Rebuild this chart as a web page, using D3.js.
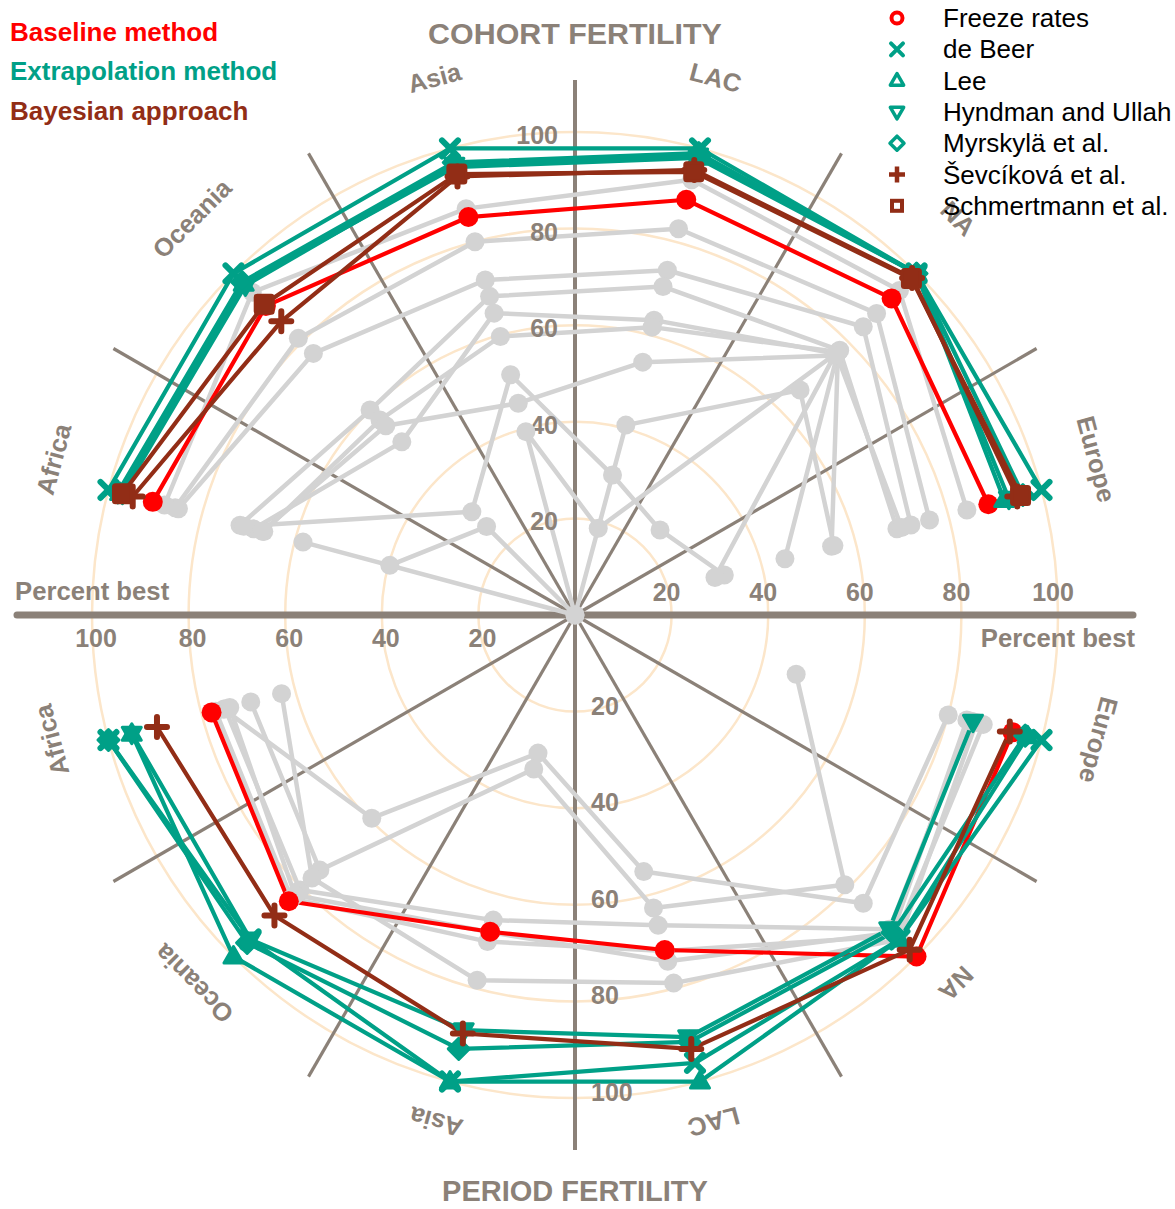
<!DOCTYPE html>
<html><head><meta charset="utf-8">
<script src="https://cdn.jsdelivr.net/npm/d3@7"></script>
<style>
body{margin:0;background:#fff}
svg{display:block}
text{font-family:"Liberation Sans",Arial,Helvetica,sans-serif}
</style>
</head><body>
<svg id="c" width="1175" height="1209"></svg>
<script>
// ---------- DATA ----------
const regions = ["Africa", "Oceania", "Asia", "LAC", "NA", "Europe"];
const radialTicks = [20, 40, 60, 80, 100];
const groupLabels = ["Baseline method", "Extrapolation method", "Bayesian approach"];
const methodNames = ["Freeze rates", "de Beer", "Lee", "Hyndman and Ullah", "Myrskylä et al.", "Ševcíková et al.", "Schmertmann et al."];

// percent best, order of regions above
const freezeCohort      = [90.5, 90.5, 85.3, 89.0, 92.7, 88.6];
const freezePeriod      = [77.9, 83.8, 67.9, 71.8, 100, 93.8];
const deBeerCohort      = [100, 100, 100, 100, 100, 100];
const deBeerPeriod      = [100, 95, 100, 96, 95, 100];
const leeCohort         = [97.5, 97, 96, 98, 100, 92];
const leePeriod         = [95, 100, 100, 100, 95, 97];
const hyndmanCohort     = [97, 96.5, 96.5, 98.5, 100, 93];
const hyndmanPeriod     = [95, 95, 89, 90.5, 92, 85.3];
const myrskylaCohort    = [98, 97.5, 97, 99, 100, 96];
const myrskylaPeriod    = [100, 96, 93, 91.5, 93, 96.5];
const sevcikovaCohort   = [94.8, 86, 94, 95.4, 98.7, 94.8];
const sevcikovaPeriod   = [89.6, 88, 89.7, 93, 98, 93.2];
const schmertmannCohort = [97, 91, 94.5, 95, 98.5, 95.5];
const schmertmannPeriod = [null, null, null, null, null, null];

// other methods (grey)
const otherCohort = [
  [88, 94.5, 87.1, 93.3, 95, 84],
  [85.7, 81, 80, 82.8, 88.3, 76],
  [85, 76.6, 71.8, 73.9, 84.4, 72],
  [71.8, 60, 68.3, 70.4, 77.5, 69],
  [68.9, 50.7, 64.7, 63.2, 76.5, 70],
  [66.7, 57.1, 59.7, 61.7, 77, 55],
  [71, 30.2, 51.5, 30, 24.9, 32],
  [58.3, 0, 39.3, 18.6, 77, 45],
  [39.7, 25.9, 0, 40.7, 65.9, 55.5],
  [67, 55.4, 45.4, 54.2, 76, 30]
];
const otherPeriod = [
  [75.3, 59.5, 29.6, 55, 84.4, 80],
  [69.5, 74.7, 33, 62.8, 79, 47.4],
  [77, 83, 70, 72, 94, 87.5],
  [75, 80.5, 65.4, 66.5, 92, 85],
  [62.9, 77, 78.3, 78.9, 95, 86],
  [74, 82, 68, 74.2, 93, 84]
];

// ---------- STYLE ----------
const RED = "#ff0000", TEAL = "#00a087", BROWN = "#922d16", GREY = "#d3d3d3";
const AXIS = "#8b8178", GRID = "#fce6ca";
const cx = 575, cy = 615;

const svg = d3.select("#c");
const r = d3.scaleLinear().domain([0, 100]).range([0, 483]);
const angCohort = d3.scalePoint().domain(regions).range([165, 15]);
const angPeriod = d3.scalePoint().domain(regions).range([195, 345]);
const rad = a => a * Math.PI / 180;
const pos = (a, v) => [cx + r(v) * Math.cos(rad(a)), cy - r(v) * Math.sin(rad(a))];

// grid circles
svg.append("g").selectAll("circle").data(radialTicks).join("circle")
  .attr("cx", cx).attr("cy", cy).attr("r", d => r(d))
  .attr("fill", "none").attr("stroke", GRID).attr("stroke-width", 2.5);

// radial axis lines
const rayAngles = [30, 60, 120, 150, 210, 240, 300, 330];
svg.append("g").selectAll("line").data(rayAngles).join("line")
  .attr("x1", cx).attr("y1", cy)
  .attr("x2", a => cx + 533 * Math.cos(rad(a)))
  .attr("y2", a => cy - 533 * Math.sin(rad(a)))
  .attr("stroke", AXIS).attr("stroke-width", 3.2);
svg.append("line").attr("x1", cx).attr("x2", cx).attr("y1", cy - 535).attr("y2", cy + 535)
  .attr("stroke", AXIS).attr("stroke-width", 4);
svg.append("line").attr("x1", 17).attr("x2", 1133).attr("y1", cy).attr("y2", cy)
  .attr("stroke", AXIS).attr("stroke-width", 7).attr("stroke-linecap", "round");

// region labels
function regionLabels(angScale, top) {
  svg.append("g").selectAll("text").data(regions).join("text")
    .attr("transform", d => {
      const a = angScale(d);
      const la = top ? a + (90 - a) * 0.022 : a + (a - 270) * 0.021;
      const s = Math.abs(Math.sin(rad(a)));
      const R = top ? 540 + 16 * s : 543 - 18 * s;
      const x = cx + R * Math.cos(rad(la)), y = cy - R * Math.sin(rad(la));
      return `translate(${x},${y}) rotate(${90 - a})`;
    })
    .attr("text-anchor", "middle").attr("dominant-baseline", "central")
    .attr("fill", AXIS).attr("font-weight", "bold").attr("font-size", 25.5)
    .text(d => d);
}
regionLabels(angCohort, true);
regionLabels(angPeriod, false);

// titles
svg.append("text").attr("x", cx).attr("y", 33).attr("text-anchor", "middle").attr("dominant-baseline", "central")
  .attr("fill", AXIS).attr("font-weight", "bold").attr("font-size", 30.4).text("COHORT FERTILITY");
svg.append("text").attr("x", cx).attr("y", 1201).attr("text-anchor", "middle")
  .attr("fill", AXIS).attr("font-weight", "bold").attr("font-size", 29).text("PERIOD FERTILITY");

// ---------- SERIES ----------
const series = [];
otherCohort.forEach(v => series.push({vals: v, ang: angCohort, color: GREY, shape: "dot"}));
otherPeriod.forEach(v => series.push({vals: v, ang: angPeriod, color: GREY, shape: "dot"}));
const colored = [
  [freezeCohort, freezePeriod, RED, "circle"],
  [deBeerCohort, deBeerPeriod, TEAL, "x"],
  [leeCohort, leePeriod, TEAL, "tri"],
  [hyndmanCohort, hyndmanPeriod, TEAL, "tridown"],
  [myrskylaCohort, myrskylaPeriod, TEAL, "diamond"],
  [sevcikovaCohort, sevcikovaPeriod, BROWN, "plus"],
  [schmertmannCohort, schmertmannPeriod, BROWN, "square"]
];
colored.forEach(([c, p, col, sh]) => {
  series.push({vals: c, ang: angCohort, color: col, shape: sh});
  series.push({vals: p, ang: angPeriod, color: col, shape: sh});
});
series.forEach(s => {
  s.pts = regions.map((reg, i) => s.vals[i] == null ? null : pos(s.ang(reg), s.vals[i])).filter(p => p);
});

const line = d3.line();
const gl = svg.append("g");
series.forEach(s => {
  if (s.pts.length < 2) return;
  gl.append("path").attr("d", line(s.pts)).attr("fill", "none")
    .attr("stroke", s.color).attr("stroke-width", s.color === GREY ? 4.5 : 4.2)
    .attr("stroke-linejoin", "round");
});

// tick labels (drawn over the lines)
const tl = svg.append("g").attr("fill", AXIS).attr("font-weight", "bold").attr("font-size", 25);
tl.selectAll(".tu").data(radialTicks).join("text").attr("class", "tu")
  .attr("x", cx - 17).attr("y", d => cy - r(d) + 3).attr("text-anchor", "end")
  .attr("dominant-baseline", "central").text(d => d);
tl.selectAll(".td").data(radialTicks).join("text").attr("class", "td")
  .attr("x", cx + 16).attr("y", d => cy + r(d) - 6).attr("text-anchor", "start")
  .attr("dominant-baseline", "central").text(d => d);
tl.selectAll(".tr").data(radialTicks).join("text").attr("class", "tr")
  .attr("x", d => cx + r(d) - 5).attr("y", 592).attr("text-anchor", "middle")
  .attr("dominant-baseline", "central").text(d => d);
tl.selectAll(".tlft").data(radialTicks).join("text").attr("class", "tlft")
  .attr("x", d => cx - r(d) + 4).attr("y", 638).attr("text-anchor", "middle")
  .attr("dominant-baseline", "central").text(d => d);
tl.append("text").attr("x", 15).attr("y", 591).attr("font-size", 25.7).attr("dominant-baseline", "central").text("Percent best");
tl.append("text").attr("x", 1135).attr("y", 638).attr("font-size", 25.7).attr("text-anchor", "end").attr("dominant-baseline", "central").text("Percent best");

function marker(g, shape, color, x, y, legend) {
  if (shape === "dot") {
    g.append("circle").attr("cx", x).attr("cy", y).attr("r", 9.5).attr("fill", color);
  } else if (shape === "circle") {
    if (legend) g.append("circle").attr("cx", x).attr("cy", y).attr("r", 5.5).attr("fill", "none").attr("stroke", color).attr("stroke-width", 4);
    else g.append("circle").attr("cx", x).attr("cy", y).attr("r", 10).attr("fill", color);
  } else if (shape === "x") {
    const h = legend ? 6 : 8;
    g.append("path").attr("d", `M${x - h},${y - h}L${x + h},${y + h}M${x - h},${y + h}L${x + h},${y - h}`)
      .attr("stroke", color).attr("stroke-width", legend ? 4 : 6).attr("stroke-linecap", "round");
  } else if (shape === "tri" || shape === "tridown") {
    const s = legend ? 7 : 10, dir = shape === "tri" ? 1 : -1;
    const p = `M${x},${y - dir * s}L${x + s * 0.95},${y + dir * s * 0.65}L${x - s * 0.95},${y + dir * s * 0.65}Z`;
    g.append("path").attr("d", p).attr("fill", legend ? "none" : color).attr("stroke", color)
      .attr("stroke-width", legend ? 3.5 : 3).attr("stroke-linejoin", "round");
  } else if (shape === "diamond") {
    const s = legend ? 7 : 10.5;
    g.append("path").attr("d", `M${x},${y - s}L${x + s},${y}L${x},${y + s}L${x - s},${y}Z`)
      .attr("fill", legend ? "none" : color).attr("stroke", color).attr("stroke-width", legend ? 3.5 : 3)
      .attr("stroke-linejoin", "round");
  } else if (shape === "plus") {
    const h = legend ? 8 : 10;
    g.append("path").attr("d", `M${x - h},${y}L${x + h},${y}M${x},${y - h}L${x},${y + h}`)
      .attr("stroke", color).attr("stroke-width", legend ? 4.5 : 6).attr("stroke-linecap", legend ? "butt" : "round");
  } else if (shape === "square") {
    const s = legend ? 5 : 9;
    g.append("rect").attr("x", x - s).attr("y", y - s).attr("width", 2 * s).attr("height", 2 * s).attr("rx", legend ? 0 : 2)
      .attr("fill", legend ? "none" : color).attr("stroke", color).attr("stroke-width", legend ? 4 : 3);
  }
}
const gm = svg.append("g");
series.forEach(s => s.pts.forEach(p => marker(gm, s.shape, s.color, p[0], p[1], false)));

// ---------- LEGENDS ----------
const lg = svg.append("g").attr("font-weight", "bold").attr("font-size", 26);
lg.selectAll("text").data(groupLabels).join("text")
  .attr("x", 10).attr("y", (d, i) => 32 + i * 39.3).attr("dominant-baseline", "central")
  .attr("fill", (d, i) => [RED, TEAL, BROWN][i]).text(d => d);

const legShapes = ["circle", "x", "tri", "tridown", "diamond", "plus", "square"];
const legColors = [RED, TEAL, TEAL, TEAL, TEAL, BROWN, BROWN];
const rg = svg.append("g");
methodNames.forEach((m, i) => {
  const y = 18 + i * 31.3;
  marker(rg, legShapes[i], legColors[i], 897, y, true);
  rg.append("text").attr("x", 943).attr("y", y).attr("dominant-baseline", "central")
    .attr("font-size", 26).attr("fill", "#000").text(m);
});
</script>
</body></html>
